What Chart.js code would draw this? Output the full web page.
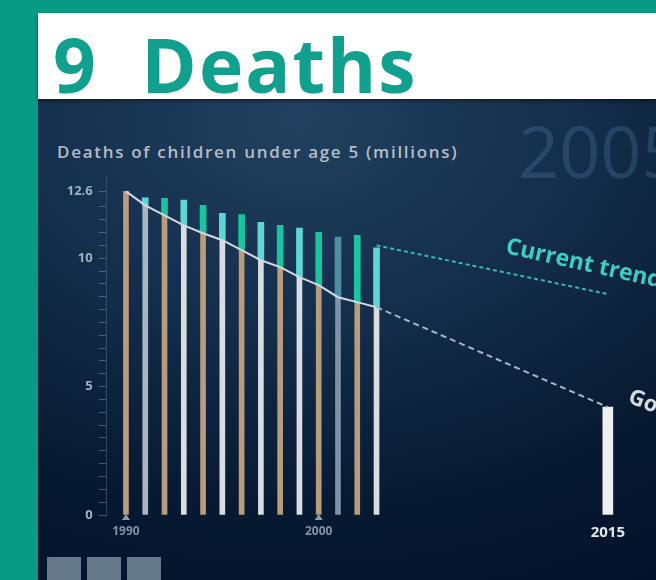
<!DOCTYPE html>
<html>
<head>
<meta charset="utf-8">
<script src="https://cdn.jsdelivr.net/npm/chart.js@4.4.1/dist/chart.umd.min.js"></script>
<style>
  html, body { margin: 0; padding: 0; }
  body {
    width: 656px; height: 580px; overflow: hidden; position: relative;
    background: #079a84; font-family: "Open Sans", "DejaVu Sans", sans-serif;
  }
  #head {
    position: absolute; left: 38px; top: 13px; width: 618px; height: 86px;
    background: #ffffff; box-shadow: 0 2px 3px rgba(0,0,0,0.45); z-index: 2;
  }
  #head h1 {
    position: absolute; left: 15px; top: 0px; margin: 0; line-height: normal;
    font-size: 75px; font-weight: 700; color: #12a08e; white-space: nowrap;
    letter-spacing: 2px; word-spacing: 22px;
  }
  #panel {
    position: absolute; left: 38px; top: 99px; width: 618px; height: 481px; overflow: hidden;
    background: radial-gradient(ellipse 720px 520px at 42% 4%, #22405f 0%, #15304e 35%, #081b33 72%, #03122a 100%);
  }
  #sub {
    position: absolute; left: 19px; top: 41px; font-size: 17px; font-weight: 600;
    letter-spacing: 1.7px; color: #b3bdc8; white-space: nowrap;
  }
  #edition {
    position: absolute; left: 480px; top: 2px; font-size: 72px; font-weight: 400;
    color: rgba(86, 126, 168, 0.3); white-space: nowrap;
  }
  .chip {
    position: absolute; top: 458px; width: 34px; height: 24px; background: #64788a;
  }
  #chart { position: absolute; left: 0; top: 0; }
</style>
</head>
<body>
<div id="head"><h1>9 Deaths</h1></div>
<div id="panel">
  <div id="sub">Deaths of children under age 5 (millions)</div>
  <div id="edition">2005</div>
  <div class="chip" style="left:9px"></div>
  <div class="chip" style="left:49px"></div>
  <div class="chip" style="left:89px"></div>
  <canvas id="chart" width="618" height="481"></canvas>
</div>
<script>
// Yearly deaths of children under five, in millions
const years        = [1990, 1991, 1992, 1993, 1994, 1995, 1996, 1997, 1998, 1999, 2000, 2001, 2002, 2003];
// path needed to reach the 2015 goal (top of the light bars)
const goalPath     = [12.6, 12.06, 11.67, 11.28, 10.97, 10.7, 10.31, 9.92, 9.65, 9.26, 8.95, 8.48, 8.29, 8.09];
// deaths on the current trend (top of the teal bars)
const currentTrend = [12.6, 12.35, 12.33, 12.26, 12.06, 11.75, 11.7, 11.4, 11.28, 11.17, 11.01, 10.82, 10.89, 10.4];
// 2015 goal
const goalYear  = 2015;
const goalValue = 4.2;
// projection of the current trend
const trendYears  = [2003, 2015];
const trendValues = [10.5, 8.6];

const yTickLabels = [0, 5, 10, 12.6];
const xTickYears  = [1990, 2000, 2015];

const barColors  = ['#b99b7d', '#aab5c3', '#b99b7d', '#d9dde2', '#b99b7d', '#d9dde2', '#b99b7d',
                    '#d9dde2', '#b99b7d', '#d9dde2', '#b99b7d', '#7e91a8', '#b99b7d', '#d9dde2'];
const tealColors = ['#19c4a0', '#5fd6d6', '#19c4a0', '#5fd6d6', '#19c4a0', '#5fd6d6', '#19c4a0',
                    '#5fd6d6', '#19c4a0', '#5fd6d6', '#19c4a0', '#4f8fa6', '#19c4a0', '#5fd6d6'];

// rotated annotations next to the two projection lines, and small markers under 1990 / 2000
const notes = {
  id: 'notes',
  afterDatasetsDraw(chart) {
    const { ctx, chartArea, scales: { x, y } } = chart;
    ctx.save();
    ctx.textBaseline = 'alphabetic';
    ctx.translate(x.getPixelForValue(2009.65), y.getPixelForValue(10.2));
    ctx.rotate(0.22);
    ctx.font = '700 23px "Open Sans"';
    ctx.fillStyle = '#3ccdc5';
    ctx.fillText('Current trend', 0, 0);
    ctx.restore();

    ctx.save();
    ctx.translate(x.getPixelForValue(2016.0), y.getPixelForValue(4.4));
    ctx.rotate(0.38);
    ctx.font = '700 22px "Open Sans"';
    ctx.fillStyle = '#d5dbe2';
    ctx.fillText('Goal', 0, 0);
    ctx.restore();

    ctx.save();
    ctx.fillStyle = '#8a9bb0';
    xTickYears.filter(v => v !== goalYear).forEach(v => {
      const px = x.getPixelForValue(v);
      const b = chartArea.bottom;
      ctx.beginPath();
      ctx.moveTo(px - 4, b + 5);
      ctx.lineTo(px + 4, b + 5);
      ctx.lineTo(px, b - 1);
      ctx.closePath();
      ctx.fill();
    });
    ctx.restore();
  }
};

const goalLine = years.map((yr, i) => ({ x: yr, y: goalPath[i] }));
goalLine.push({ x: goalYear, y: goalValue });

new Chart(document.getElementById('chart'), {
  type: 'bar',
  data: {
    datasets: [
      {
        type: 'line', order: 0,
        data: goalLine,
        borderColor: '#d3d9e1', borderWidth: 2, pointRadius: 0, tension: 0,
        segment: { borderDash: c => c.p0.parsed.x >= 2003 ? [6, 4] : undefined,
                   borderColor: c => c.p0.parsed.x >= 2003 ? '#a9b6c6' : undefined }
      },
      {
        type: 'line', order: 0,
        data: trendYears.map((yr, i) => ({ x: yr, y: trendValues[i] })),
        borderColor: '#35b9b9', borderWidth: 2, borderDash: [4, 3], pointRadius: 0
      },
      {
        order: 1, grouped: false,
        data: years.map((yr, i) => ({ x: yr, y: [goalPath[i], currentTrend[i]] })),
        backgroundColor: tealColors, barThickness: 6, borderSkipped: false
      },
      {
        order: 1, grouped: false,
        data: years.map((yr, i) => ({ x: yr, y: goalPath[i] })),
        backgroundColor: barColors, barThickness: 5
      },
      {
        order: 1, grouped: false,
        data: [{ x: goalYear, y: goalValue }],
        backgroundColor: '#eceef1', barThickness: 10
      }
    ]
  },
  options: {
    responsive: false, animation: false, devicePixelRatio: 1,
    layout: { padding: { top: 77, left: 0, right: 0, bottom: 0 } },
    plugins: { legend: { display: false }, tooltip: { enabled: false } },
    scales: {
      x: {
        type: 'linear', min: 1989, max: 2017.5, offset: false,
        afterBuildTicks: s => { s.ticks = xTickYears.map(v => ({ value: v })); },
        afterFit: s => { s.height = 65; },
        grid: { display: false, drawTicks: false },
        border: { display: false },
        ticks: {
          autoSkip: false, maxRotation: 0, padding: 9,
          callback: v => String(v),
          color: c => c.tick && c.tick.value === goalYear ? '#e3e7ec' : '#8193a7',
          font: c => ({ family: '"Open Sans"', weight: '700',
                        size: c.tick && c.tick.value === goalYear ? 15 : 12 })
        }
      },
      y: {
        min: 0, max: 13.2,
        afterBuildTicks: s => {
          const t = [];
          for (let v = 0; v <= 12; v += 0.5) t.push({ value: v });
          t.push({ value: 12.6 });
          s.ticks = t;
        },
        afterFit: s => { s.width = 68.7; },
        grid: { drawOnChartArea: false, tickLength: 8, color: 'rgba(110,140,170,0.55)', lineWidth: 1 },
        border: { display: true, color: 'rgba(90,120,150,0.45)' },
        ticks: {
          autoSkip: false, padding: 6,
          callback: v => yTickLabels.includes(v) ? String(v) : '',
          color: '#9fb1c3',
          font: { family: '"Open Sans"', weight: '700', size: 13 }
        }
      }
    }
  },
  plugins: [notes]
});
</script>
</body>
</html>
